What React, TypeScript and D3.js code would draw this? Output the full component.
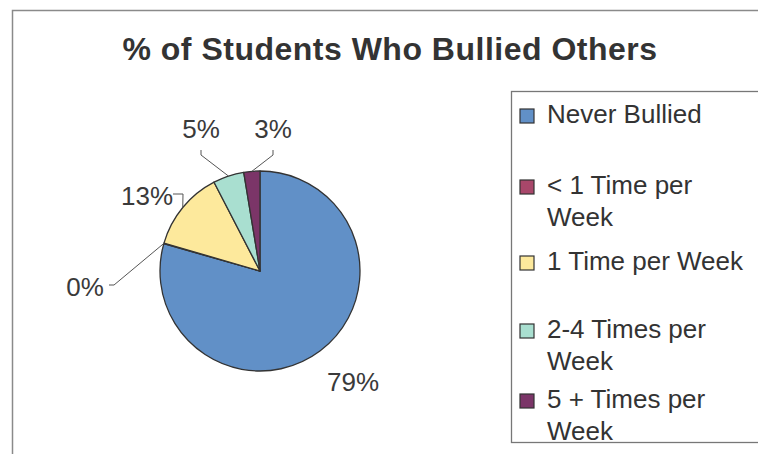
import * as d3 from "d3";
import React from "react";

const categories = ["Never Bullied", "< 1 Time per Week", "1 Time per Week", "2-4 Times per Week", "5 + Times per Week"];
const legendLines = [["Never Bullied"], ["< 1 Time per", "Week"], ["1 Time per Week"], ["2-4 Times per", "Week"], ["5 + Times per", "Week"]];
const values = [79.4, 0.1, 12.9, 5.0, 2.6];
const colors = ["#6190c7", "#a8476a", "#fde99c", "#a9dfd0", "#7b3568"];

// label placement, relative to pie centre (text centre, leader start, leader elbow)
const labelLayout = [
  { tx: 93, ty: 111, leader: null as null | number[] },
  { tx: -175, ty: 16, leader: [-151, 14, -146, 14] },
  { tx: -113, ty: -75, leader: [-87, -77, -77, -77] },
  { tx: -59, ty: -142, leader: [-59, -121, -59, -116] },
  { tx: 13, ty: -142, leader: [13, -121, 13, -116] },
];

const FONT = "'Liberation Sans', Arial, Helvetica, sans-serif";

export default function App() {
  const W = 758, H = 454;
  const cx = 260, cy = 271, r = 100;
  const total = d3.sum(values);
  const pie = d3.pie<number>().sort(null).value(d => d)(values);
  const arc = d3.arc<d3.PieArcDatum<number>>().innerRadius(0).outerRadius(r);
  const edge = d3.arc<d3.PieArcDatum<number>>().innerRadius(r).outerRadius(r);

  const legendBase = [123, 194, 270, 338, 408];

  return (
    <svg width={W} height={H} style={{ position: "absolute", left: 0, top: 0, background: "#fff" }} fontFamily={FONT}>
      <rect x={12.5} y={10.5} width={W} height={H} fill="#fff" stroke="#8a8a8a" strokeWidth={1.5} />
      <text x={390} y={60} textAnchor="middle" fontSize={32} fontWeight="bold" fill="#333" letterSpacing={0.5}>
        % of Students Who Bullied Others
      </text>

      <g transform={`translate(${cx},${cy})`}>
        {pie.map((d, i) => (
          <path key={i} d={arc(d) || ""} fill={colors[i]} stroke="#333" strokeWidth={1.3} strokeLinejoin="round" />
        ))}
        {pie.map((d, i) => {
          const L = labelLayout[i];
          const [ex, ey] = edge.centroid(d);
          const pct = Math.round((d.value / total) * 100);
          return (
            <g key={i}>
              {L.leader && (
                <polyline
                  points={`${L.leader[0]},${L.leader[1]} ${L.leader[2]},${L.leader[3]} ${ex},${ey}`}
                  fill="none" stroke="#555" strokeWidth={1}
                />
              )}
              <text x={L.tx} y={L.ty} textAnchor="middle" dominantBaseline="central" fontSize={26} fill="#3a3a3a">
                {pct}%
              </text>
            </g>
          );
        })}
      </g>

      <rect x={511.5} y={91.5} width={W} height={351} fill="#fff" stroke="#777" strokeWidth={1.3} />
      {categories.map((c, i) => (
        <g key={c}>
          <rect x={520} y={legendBase[i] - 14} width={14} height={14} fill={colors[i]} stroke="#333" strokeWidth={1.2} />
          {legendLines[i].map((ln, j) => (
            <text key={j} x={547} y={legendBase[i] + j * 31.5} fontSize={26} fill="#333">
              {ln}
            </text>
          ))}
        </g>
      ))}
    </svg>
  );
}
